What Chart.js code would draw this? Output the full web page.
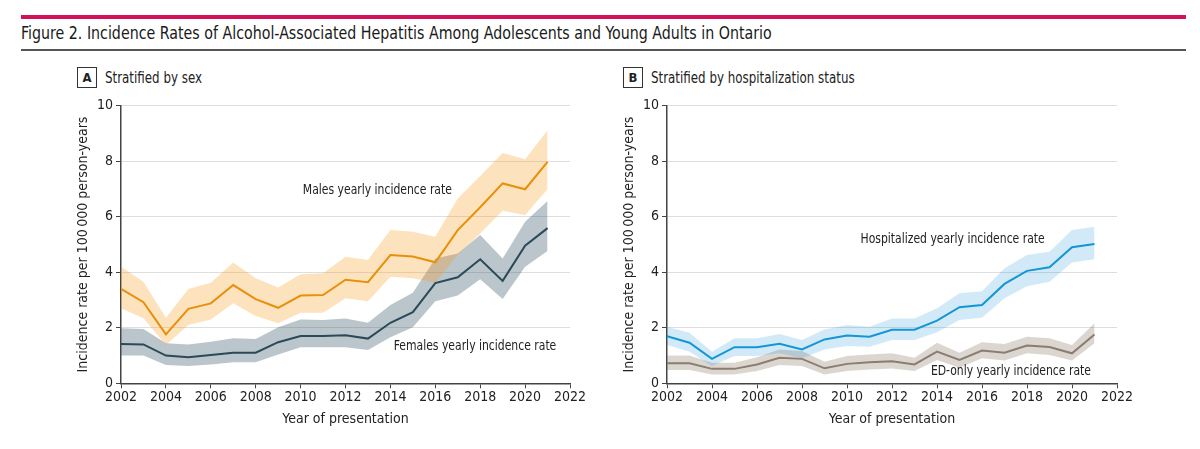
<!DOCTYPE html>
<html>
<head>
<meta charset="utf-8">
<script src="https://cdn.jsdelivr.net/npm/chart.js@4.4.1/dist/chart.umd.min.js"></script>
<style>
  body { margin: 0; background: #fff; width: 1200px; height: 449px; overflow: hidden;
         font-family: 'Liberation Sans Narrow', 'DejaVu Sans Condensed', 'Open Sans', sans-serif; color: #222; }
  .topline { position: absolute; left: 21px; top: 15px; width: 1165px; height: 4px; background: #d3105a; }
  .title { position: absolute; left: 21px; top: 22px; font-size: 18px; white-space: nowrap; color: #1a1a1a; transform-origin: left center; }
  .rule { position: absolute; left: 21px; top: 49px; width: 1165px; height: 2px; background: #555; }
  .panel { position: absolute; font-size: 15px; white-space: nowrap; color: #222; }
  .panel b { display: inline-block; width: 18px; height: 19px; border: 1px solid #333; text-align: center;
             line-height: 19px; font-size: 13px; margin-right: 8px; vertical-align: middle; }
  .panel span { display: inline-block; transform: scaleX(0.88); transform-origin: left center; vertical-align: middle; }
  .box { position: absolute; }
</style>
</head>
<body>
<div class="topline"></div>
<div class="title" id="title">Figure 2. Incidence Rates of Alcohol-Associated Hepatitis Among Adolescents and Young Adults in Ontario</div>
<div class="rule"></div>
<div class="panel" style="left:77px; top:67px;"><b>A</b><span>Stratified by sex</span></div>
<div class="panel" style="left:623px; top:67px;"><b>B</b><span>Stratified by hospitalization status</span></div>
<div class="box" style="left:70px; top:90px; width:530px; height:350px;"><canvas id="chartA"></canvas></div>
<div class="box" style="left:616px; top:90px; width:531px; height:350px;"><canvas id="chartB"></canvas></div>
<script>
const years = [2002, 2003, 2004, 2005, 2006, 2007, 2008, 2009, 2010, 2011, 2012, 2013, 2014, 2015, 2016, 2017, 2018, 2019, 2020, 2021];
const yTicks = [0, 2, 4, 6, 8, 10];
const xTicks = [2002, 2004, 2006, 2008, 2010, 2012, 2014, 2016, 2018, 2020, 2022];

// panel A - stratified by sex
const males = [3.40, 2.92, 1.76, 2.68, 2.88, 3.54, 3.03, 2.72, 3.16, 3.18, 3.73, 3.64, 4.62, 4.57, 4.36, 5.52, 6.34, 7.20, 6.99, 7.98];
const malesUpper = [4.20, 3.66, 2.36, 3.40, 3.62, 4.35, 3.78, 3.45, 3.93, 3.96, 4.56, 4.44, 5.52, 5.46, 5.28, 6.66, 7.47, 8.30, 8.07, 9.12];
const malesLower = [2.70, 2.34, 1.38, 2.10, 2.30, 2.88, 2.42, 2.16, 2.54, 2.54, 3.06, 2.96, 3.84, 3.78, 3.62, 4.62, 5.40, 6.22, 6.06, 6.99];
const females = [1.42, 1.40, 1.00, 0.94, 1.02, 1.10, 1.10, 1.48, 1.70, 1.70, 1.73, 1.61, 2.18, 2.56, 3.61, 3.82, 4.47, 3.69, 4.96, 5.59];
const femalesUpper = [1.98, 1.96, 1.44, 1.40, 1.50, 1.62, 1.60, 2.02, 2.30, 2.28, 2.33, 2.18, 2.82, 3.26, 4.50, 4.68, 5.34, 4.50, 5.82, 6.57];
const femalesLower = [1.00, 1.00, 0.66, 0.62, 0.68, 0.76, 0.76, 1.04, 1.30, 1.30, 1.30, 1.20, 1.66, 2.02, 2.96, 3.16, 3.75, 3.04, 4.20, 4.77];

// panel B - stratified by hospitalization status
const hosp = [1.70, 1.46, 0.88, 1.30, 1.30, 1.42, 1.22, 1.58, 1.72, 1.68, 1.93, 1.93, 2.26, 2.74, 2.82, 3.58, 4.05, 4.18, 4.90, 5.02];
const hospUpper = [2.04, 1.82, 1.14, 1.62, 1.62, 1.78, 1.56, 1.94, 2.10, 2.04, 2.33, 2.33, 2.70, 3.24, 3.32, 4.14, 4.62, 4.74, 5.52, 5.64];
const hospLower = [1.38, 1.14, 0.62, 0.98, 0.98, 1.08, 0.90, 1.22, 1.34, 1.32, 1.56, 1.56, 1.84, 2.28, 2.36, 3.06, 3.50, 3.66, 4.35, 4.47];
const edOnly = [0.72, 0.72, 0.52, 0.52, 0.68, 0.92, 0.88, 0.54, 0.70, 0.76, 0.79, 0.68, 1.14, 0.84, 1.18, 1.10, 1.36, 1.31, 1.08, 1.76];
const edUpper = [1.00, 1.00, 0.74, 0.74, 0.94, 1.22, 1.16, 0.78, 0.98, 1.04, 1.08, 0.92, 1.46, 1.10, 1.48, 1.42, 1.68, 1.62, 1.38, 2.16];
const edLower = [0.48, 0.48, 0.32, 0.32, 0.44, 0.66, 0.62, 0.32, 0.44, 0.50, 0.53, 0.44, 0.84, 0.56, 0.90, 0.82, 1.08, 1.02, 0.82, 1.44];

const labelsA = ['Males yearly incidence rate', 'Females yearly incidence rate'];
const labelsB = ['Hospitalized yearly incidence rate', 'ED-only yearly incidence rate'];

const FONT = "'Liberation Sans Narrow', 'DejaVu Sans Condensed', 'Open Sans', sans-serif";
Chart.defaults.font.family = FONT;
Chart.defaults.color = '#222';

// squeeze the title to the width it has in the figure
const titleEl = document.getElementById('title');
titleEl.style.transform = 'scaleX(' + (751 / titleEl.offsetWidth) + ')';

const pts = (vals) => years.map((yr, i) => ({ x: yr, y: vals[i] }));

function series(name, vals, upper, lower, lineColor, bandColor) {
  return [
    { label: name + ' upper', data: pts(upper), borderWidth: 0, pointRadius: 0, fill: '+1', backgroundColor: bandColor, order: 2 },
    { label: name + ' lower', data: pts(lower), borderWidth: 0, pointRadius: 0, fill: false, order: 2 },
    { label: name, data: pts(vals), borderColor: lineColor, borderWidth: 2, pointRadius: 0, fill: false, order: 1 }
  ];
}

// text placed next to the lines, in data units
const lineLabels = {
  id: 'lineLabels',
  afterDatasetsDraw(chart, args, opts) {
    const { ctx, scales } = chart;
    ctx.save();
    ctx.font = '14px ' + FONT;
    ctx.fillStyle = '#222';
    ctx.textBaseline = 'middle';
    ctx.textAlign = 'left';
    opts.items.forEach(it => {
      ctx.save();
      ctx.translate(scales.x.getPixelForValue(it.x), scales.y.getPixelForValue(it.y));
      ctx.scale(0.86, 1);
      ctx.fillText(it.text, 0, 0);
      ctx.restore();
    });
    ctx.restore();
  }
};

function makeChart(id, datasets, items) {
  return new Chart(document.getElementById(id), {
    type: 'line',
    data: { datasets },
    plugins: [lineLabels],
    options: {
      responsive: true,
      maintainAspectRatio: false,
      animation: false,
      layout: { padding: { top: 15.7, right: 30, left: 0, bottom: 0 } },
      plugins: {
        legend: { display: false },
        tooltip: { enabled: false },
        lineLabels: { items }
      },
      scales: {
        x: {
          type: 'linear', min: 2002, max: 2022,
          afterFit: (s) => { s.height = 56.7; },
          afterBuildTicks: (s) => { s.ticks = xTicks.map(v => ({ value: v })); },
          ticks: { font: { size: 14 }, color: '#222', padding: 1, maxRotation: 0, callback: (v) => String(v) },
          grid: { drawOnChartArea: false, drawTicks: true, tickLength: 5, tickColor: '#444' },
          border: { color: '#444', width: 1.5 },
          title: { display: true, text: 'Year of presentation', font: { size: 14 }, color: '#222', padding: { top: 0, bottom: 12.6 } }
        },
        y: {
          min: 0, max: 10,
          afterFit: (s) => { s.width = 51; },
          afterBuildTicks: (s) => { s.ticks = yTicks.map(v => ({ value: v })); },
          ticks: { font: { size: 14 }, color: '#222', padding: 3 },
          grid: { color: '#dedede', lineWidth: 1, tickLength: 5, tickColor: '#444', drawTicks: true },
          border: { color: '#444', width: 1.5 },
          title: { display: true, text: 'Incidence rate per 100\u2009000 person-years', font: { size: 14 }, color: '#222', padding: { top: 4.6, bottom: 0 } }
        }
      }
    }
  });
}

makeChart('chartA', [
  ...series('Males', males, malesUpper, malesLower, '#e8900a', 'rgba(247,160,40,0.3)'),
  ...series('Females', females, femalesUpper, femalesLower, '#2b4a58', 'rgba(60,90,110,0.35)')
], [
  { text: labelsA[0], x: 2010.1, y: 6.95 },
  { text: labelsA[1], x: 2014.15, y: 1.32 }
]);

makeChart('chartB', [
  ...series('Hospitalized', hosp, hospUpper, hospLower, '#1496d4', 'rgba(30,150,220,0.2)'),
  ...series('ED-only', edOnly, edUpper, edLower, '#8b7d70', 'rgba(140,120,100,0.3)')
], [
  { text: labelsB[0], x: 2010.6, y: 5.2 },
  { text: labelsB[1], x: 2013.73, y: 0.42 }
]);
</script>
</body>
</html>
